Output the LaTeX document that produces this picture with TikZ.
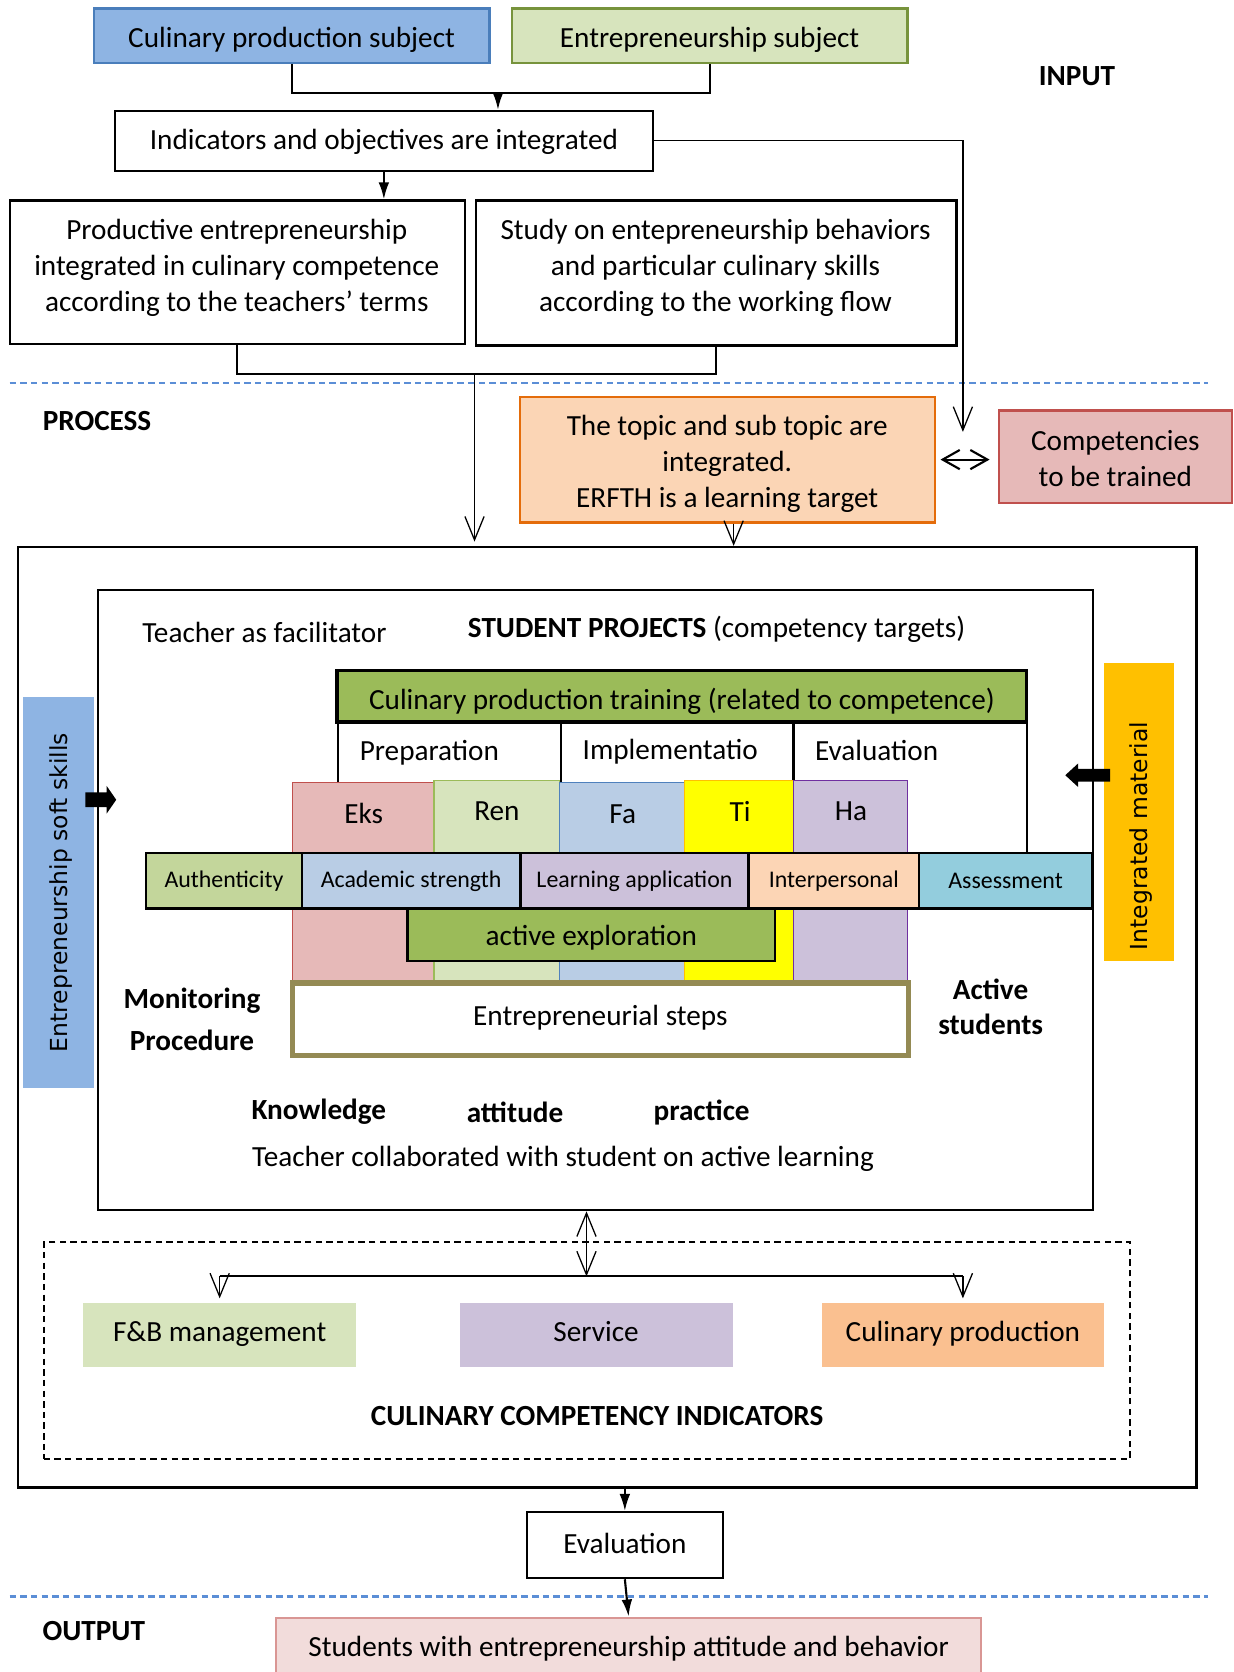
\documentclass[tikz,border=0pt]{standalone}
\usepackage{fontspec}
\setmainfont{Carlito}
\newfontfamily\vfont{DejaVu Sans}
\usetikzlibrary{arrows.meta}
\definecolor{cblue}{HTML}{8EB4E3}
\definecolor{cblueD}{HTML}{4A7EBB}
\definecolor{cgreenL}{HTML}{D7E4BD}
\definecolor{cgreenD}{HTML}{77933C}
\definecolor{corangeL}{HTML}{FBD5B5}
\definecolor{corangeD}{HTML}{E46C0A}
\definecolor{cpink}{HTML}{E6B9B8}
\definecolor{cred}{HTML}{C0504D}
\definecolor{cgreen}{HTML}{9BBB59}
\definecolor{clblue}{HTML}{B9CDE5}
\definecolor{cblueB}{HTML}{4F81BD}
\definecolor{cyel}{HTML}{FFFF00}
\definecolor{cgold}{HTML}{FFC000}
\definecolor{clav}{HTML}{CCC1DA}
\definecolor{cpurp}{HTML}{7030A0}
\definecolor{cgreenM}{HTML}{C3D69B}
\definecolor{cpeach}{HTML}{FCD5B5}
\definecolor{cteal}{HTML}{93CDDD}
\definecolor{colive}{HTML}{948A54}
\definecolor{capricot}{HTML}{FAC090}
\definecolor{crose}{HTML}{F2DCDB}
\definecolor{croseD}{HTML}{D99694}
\definecolor{sepblue}{HTML}{5B8ED6}
\newcommand\fs{\fontsize{13.7}{17}\selectfont}
\newcommand\fsm{\fontsize{11.2}{13}\selectfont}
\newcommand{\mkbox}[7]{\node[#2, minimum width={(#5-#3)*0.5pt}, minimum height={(#6-#4)*0.5pt}] (#1) at ({(#3+#5)/2},{(#4+#6)/2}) {#7};}
\tikzset{
  base/.style={rectangle, inner sep=0pt, font=\fs, align=center},
  wbox/.style={base, draw, line width=1pt, fill=white},
  colbox/.style={base, draw, line width=0.6pt},
  rowbox/.style={base, draw, line width=1.1pt, font=\fsm},
  lbl/.style={inner sep=0pt, font=\fs, align=center},
  bl/.style={inner sep=0pt, font=\fs\bfseries, align=center},
  th/.style={text height=#1, text depth=0pt},
  conn/.style={line width=1pt},
  thinl/.style={line width=0.6pt},
  sol/.style={-{Latex[length=8pt,width=5pt]}},
  vee/.style={-{Straight Barb[length=11pt,width=9pt]}},
  sepl/.style={draw=sepblue, line width=1.2pt, dash pattern=on 3pt off 2pt},
}
\begin{document}
\begin{tikzpicture}[x=0.5pt,y=-0.5pt]
\useasboundingbox (0,0) rectangle (1157,1568);
% ---------- INPUT ----------
\mkbox{cps}{base, th=11.1pt, draw=cblueD, fill=cblue, line width=1pt}{88}{8}{459}{59}{Culinary production subject}
\mkbox{ens}{base, th=11.1pt, draw=cgreenD, fill=cgreenL, line width=1pt}{480}{8}{851}{59}{Entrepreneurship subject}
\node[bl] (input) at (1010,71) {INPUT};
\mkbox{ind}{wbox, th=8.1pt}{108}{104}{612}{160}{Indicators and objectives are integrated}
\mkbox{pe}{wbox}{9}{188}{436}{323}{}
\node[lbl] (pet) at (222,251) {Productive entrepreneurship\\integrated in culinary competence\\according to the teachers’ terms};
\mkbox{sn}{wbox}{446}{188}{897}{324}{}
\node[lbl] (snt) at (671,251) {Study on entepreneurship behaviors\\and particular culinary skills\\according to the working flow};
\coordinate (jA) at (467,87);
\draw[conn] (cps.south) |- (jA) -| (ens.south);
\draw[conn, sol] (jA) -- (jA |- ind.north);
\draw[conn, sol] (ind.south) -- (ind.south |- pe.north);
\coordinate (jB) at (445,351);
\draw[conn] (pe.south) |- (jB) -| (sn.south);
% separators
\draw[sepl] (9,359) -- (1133,359);
\draw[sepl] (9,1497) -- (1133,1497);
% ---------- PROCESS ----------
\node[bl] (process) at (91,395) {PROCESS};
\mkbox{topic}{base, draw=corangeD, fill=corangeL, line width=1pt}{488}{372}{877}{490}{}
\node[lbl] (topict) at (682,435) {The topic and sub topic are\\integrated.\\ERFTH is a learning target};
\mkbox{comp}{base, draw=cred, fill=cpink, line width=1pt}{937}{385}{1155}{472}{}
\node[lbl] (compt) at (1046,430) {Competencies\\to be trained};
\coordinate (jC) at (903,405);
\draw[thinl, vee] (ind.east) -| (jC);
\draw[line width=1pt, {Straight Barb[length=8pt,width=9pt]}-{Straight Barb[length=8pt,width=9pt]}, shorten <=2pt, shorten >=4pt] (topic.east) -- (topic.east -| comp.west);
% outer and inner frames
\mkbox{outer}{base, draw, line width=1.1pt}{17}{513}{1122}{1395}{}
\mkbox{inner}{base, draw, line width=1pt}{92}{553}{1025}{1135}{}
\draw[thinl, vee, shorten >=2pt] (jB) -- (jB |- outer.north);
\draw[thinl, vee] ([xshift=2.75pt]topic.south) -- ([xshift=2.75pt]topic.south |- outer.north);
% inner content
\node[lbl] (teach) at (248,593) {Teacher as facilitator};
\node[lbl] (sproj) at (672,590) {\textbf{STUDENT PROJECTS} (competency targets)};
\mkbox{cpt}{base, th=12.1pt, draw, fill=cgreen, line width=1.5pt}{316}{629}{963}{677}{Culinary production training (related to competence)}
\mkbox{prep}{base, draw, line width=1.1pt}{317}{677}{526}{800}{}
\mkbox{impl}{base, draw, line width=1.1pt}{526}{677}{744}{800}{}
\mkbox{evl}{base, draw, line width=1.1pt}{744}{677}{963}{800}{}
\node[lbl, anchor=west] (tprep) at (337,706) {Preparation};
\node[lbl, anchor=west] (timpl) at (546,705) {Implementatio};
\node[lbl, anchor=west] (tevl) at (764,704) {Evaluation};
% columns
\mkbox{eks}{colbox, draw=cred, fill=cpink}{274}{734}{407}{922}{}
\mkbox{ren}{colbox, draw=cgreen, fill=cgreenL}{407}{732}{525}{922}{}
\mkbox{fa}{colbox, draw=cblueB, fill=clblue}{525}{734}{642}{922}{}
\mkbox{ti}{colbox, draw=cgold, fill=cyel}{642}{732}{744}{922}{}
\mkbox{ha}{colbox, draw=cpurp, fill=clav}{744}{732}{851}{922}{}
\node[lbl] (teks) at (341,763) {Eks};
\node[lbl] (tren) at (466,761) {Ren};
\node[lbl] (tfa) at (584,764) {Fa};
\node[lbl] (tti) at (694,761) {Ti};
\node[lbl] (tha) at (798,761) {Ha};
% row
\mkbox{auth}{rowbox, fill=cgreenM}{137}{800}{283}{852}{Authenticity}
\mkbox{acad}{rowbox, fill=clblue}{283}{800}{488}{852}{Academic strength}
\mkbox{lapp}{rowbox, fill=clav}{488}{800}{702}{852}{Learning application}
\mkbox{inter}{rowbox, fill=cpeach}{702}{800}{862}{852}{Interpersonal}
\mkbox{asse}{rowbox, fill=cteal}{862}{800}{1024}{852}{Assessment}
\mkbox{actx}{base, th=10.1pt, draw, fill=cgreen, line width=1.1pt}{382}{852}{727}{901}{active exploration}
\mkbox{esteps}{base, th=6.1pt, draw=colive, fill=white, line width=2.5pt}{274}{922}{852}{990}{Entrepreneurial steps}
\node[bl, font=\fontsize{13.7}{19.5}\selectfont\bfseries] (monit) at (180,956) {Monitoring\\Procedure};
\node[bl, font=\fontsize{13.7}{16.5}\selectfont\bfseries] (activ) at (929,944) {Active\\students};
\node[bl] (know) at (299,1043) {Knowledge};
\node[bl] (atti) at (483,1043) {attitude};
\node[bl] (prac) at (658,1043) {practice};
\node[lbl] (tcoll) at (528,1087) {Teacher collaborated with student on active learning};
% side bars
\mkbox{soft}{base, fill=cblue}{22}{654}{88}{1020}{}
\node[rotate=90, inner sep=0pt, font=\vfont\fontsize{11}{13}\selectfont] (tsoft) at (57,837) {Entrepreneurship soft skills};
\fill (80,743) -- (100,743) -- (100,737) -- (109,750) -- (100,763) -- (100,757) -- (80,757) -- cycle;
\mkbox{integ}{base, fill=cgold}{1035}{622}{1101}{901}{}
\node[rotate=90, inner sep=0pt, font=\vfont\fontsize{11}{13}\selectfont] (tinteg) at (1070,784) {Integrated material};
\fill (999,727) -- (1011,716) -- (1011,721) -- (1041,721) -- (1041,733) -- (1011,733) -- (1011,738) -- cycle;
% indicators
\mkbox{dash}{base, draw, dashed, dash pattern=on 3pt off 2pt, line width=0.8pt}{41}{1165}{1060}{1368}{}
\mkbox{fb}{base, th=5.8pt, fill=cgreenL}{78}{1222}{334}{1282}{F\&B management}
\mkbox{serv}{base, th=5.8pt, fill=clav}{431}{1222}{687}{1282}{Service}
\mkbox{cprod}{base, th=5.8pt, fill=capricot}{771}{1222}{1035}{1282}{Culinary production}
\node[bl] (cci) at (560,1328) {CULINARY COMPETENCY INDICATORS};
\coordinate (jD) at (550,1197);
\draw[thinl, {Straight Barb[length=11pt,width=9pt]}-{Straight Barb[length=11pt,width=9pt]}] (jD) -- (jD |- inner.south);
\draw[conn] (jD -| fb.north) -- (jD -| cprod.north);
\draw[thinl, vee, shorten >=2pt] (jD -| fb.north) -- (fb.north);
\draw[thinl, vee, shorten >=2pt] (jD -| cprod.north) -- (cprod.north);
% ---------- OUTPUT ----------
\mkbox{eval}{wbox, th=7.8pt}{494}{1418}{678}{1480}{Evaluation}
\draw[conn, sol] (eval.north |- outer.south) -- (eval.north);
\node[bl] (output) at (88,1530) {OUTPUT};
\mkbox{out}{base, th=8.1pt, draw=croseD, fill=crose, line width=1pt}{259}{1517}{920}{1573}{Students with entrepreneurship attitude and behavior}
\draw[conn, sol] (eval.south) -- (out.north);
\end{tikzpicture}
\end{document}
